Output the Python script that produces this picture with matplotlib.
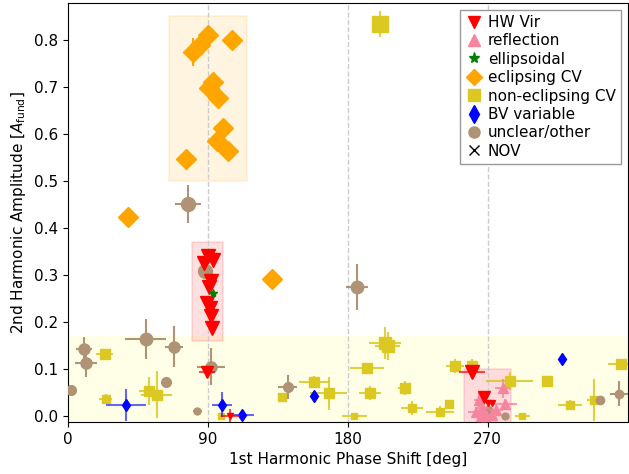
import matplotlib
matplotlib.use("Agg")
import matplotlib.pyplot as plt
from matplotlib.lines import Line2D

# ---------------- data ----------------
# eclipsing CV
ecv_x = [80.2, 84.7, 89.9, 105.3, 93.0, 91.0, 96.3, 99.4, 95.6, 102.7, 75.7, 38.5, 131.0]
ecv_y = [0.775, 0.790, 0.810, 0.800, 0.711, 0.698, 0.677, 0.613, 0.585, 0.564, 0.547, 0.423, 0.291]
ecv_yerr = [0.03, 0.0, 0.0, 0.0, 0.0, 0.0, 0.0, 0.0, 0.0, 0.0, 0.0, 0.012, 0.015]

# non-eclipsing CV
ncv_x = [200.9, 23.7, 24.2, 52.0, 57.0, 98.6, 137.8, 158.5, 167.7, 203.9, 205.6, 192.3, 194.5,
         216.5, 221.2, 239.4, 184.2, 245.2, 249.0, 259.7, 284.1, 292.3, 308.3, 322.9, 338.0, 355.4]
ncv_y = [0.834, 0.131, 0.036, 0.053, 0.045, 0.0, 0.041, 0.073, 0.048, 0.155, 0.149, 0.101, 0.048,
         0.060, 0.017, 0.009, 0.0, 0.025, 0.106, 0.107, 0.074, 0.0, 0.075, 0.023, 0.034, 0.110]
ncv_xerr = [0, 5.5, 4, 6, 10, 0, 0, 10, 12, 10, 8, 11, 7, 4, 7, 9, 8, 0, 6, 0, 15, 5, 0, 8, 4, 8]
ncv_yerr = [0.028, 0.01, 0.01, 0.03, 0.05, 0, 0, 0.012, 0.035, 0.035, 0.03, 0.0, 0.015,
            0.015, 0.015, 0.012, 0.0, 0.0, 0.015, 0.015, 0.02, 0.0, 0.0, 0.01, 0.045, 0.012]
ncv_size = [11, 7, 6, 7, 7, 5, 6, 7, 7, 8, 8, 7, 7, 7, 6, 6, 5, 6, 7, 7, 7, 5, 7, 6, 6, 7]

# unclear / other
unc_x = [77.0, 88.4, 185.7, 10.5, 11.6, 50.0, 68.2, 92.2, 63.3, 1.9, 83.2, 141.4, 270.2, 281.0, 342.0, 354.3]
unc_y = [0.451, 0.309, 0.274, 0.142, 0.112, 0.164, 0.147, 0.105, 0.071, 0.054, 0.011, 0.061,
         0.011, 0.0, 0.034, 0.047]
unc_xerr = [8.3, 0, 7, 5, 7.3, 13, 6, 9, 2.5, 0, 3, 6.2, 0, 0, 0, 6]
unc_yerr = [0.04, 0, 0.049, 0.025, 0.03, 0.042, 0.044, 0.039, 0.0, 0.0, 0.0, 0.026, 0, 0, 0, 0.027]
unc_size = [10, 10, 9, 8, 8, 9, 8, 8, 7, 7, 5, 7, 7, 5, 6, 6]

# BV variables
bv_x = [37.2, 99.3, 112.0, 158.1, 317.5]
bv_y = [0.023, 0.024, 0.002, 0.043, 0.121]
bv_xerr = [12.8, 6.4, 7.5, 0.0, 0.0]
bv_yerr = [0.035, 0.027, 0.01, 0.008, 0.008]

# HW Vir
hw_x = [90.0, 93.3, 87.5, 92.2, 90.7, 89.4, 91.1, 92.2, 92.8, 89.4, 104.4, 259.7, 267.4, 270.4, 272.5]
hw_y = [0.340, 0.332, 0.325, 0.286, 0.275, 0.241, 0.229, 0.213, 0.187, 0.094, 0.0, 0.094, 0.041, 0.027, 0.027]
hw_xerr = [0, 0, 0, 0, 0, 0, 0, 0, 0, 5, 6, 8.5, 0, 0, 0]
hw_yerr = [0, 0, 0, 0, 0, 0, 0, 0, 0, 0.008, 0.015, 0.0, 0, 0, 0]
hw_size = [10, 10, 10, 10, 10, 10, 10, 10, 10, 8, 5, 10, 9, 4, 4]

# reflection
ref_x = [279.5, 264.4, 281.0, 262.3, 266.5, 273.0, 275.5, 268.7, 265.5]
ref_y = [0.059, 0.034, 0.026, 0.009, 0.016, 0.002, 0.013, 0.0, 0.0]
ref_xerr = [4.8, 3, 7.5, 5, 4, 6, 4, 5, 4]
ref_yerr = [0.02, 0.015, 0.01, 0.01, 0.01, 0.01, 0.01, 0.01, 0.01]

# ellipsoidal
ell_x = [93.3]
ell_y = [0.262]

# classification regions (x0, x1, y0, y1)
reg_ecv = (65, 115, 0.50, 0.85)
reg_hw = (80, 100, 0.16, 0.37)
reg_ref = (255, 285, -0.02, 0.10)
band_y = 0.17

xticks = [0, 90, 180, 270]
yticks = [0.0, 0.1, 0.2, 0.3, 0.4, 0.5, 0.6, 0.7, 0.8]

# ---------------- style ----------------
C_ECV = "#ffa500"
C_NCV = "#dbc823"
C_UNC = "#b09274"
C_BV = "#0000ff"
C_HW = "#ff0000"
C_REF = "#f7849f"
C_ELL = "#008000"

fig = plt.figure(figsize=(6.29, 4.74), dpi=100)
ax = fig.add_axes([0.108, 0.110, 0.890, 0.884])

ax.set_xlim(0, 360)
ax.set_ylim(-0.0128, 0.879)

ax.axhspan(-0.05, band_y, color="yellow", alpha=0.09, lw=0, zorder=0)
for (x0, x1, y0, y1), c, a in [(reg_ecv, "orange", 0.12), (reg_hw, "red", 0.12), (reg_ref, "deeppink", 0.15)]:
    ax.add_patch(plt.Rectangle((x0, y0), x1 - x0, y1 - y0, facecolor=c, edgecolor=c,
                               alpha=a, lw=1.2, zorder=0.5))
for xv in [90, 180, 270]:
    ax.axvline(xv, color="#cccccc", ls="--", lw=1, zorder=0.6)


def draw(xs, ys, xe, ye, sizes, marker, color, ecolor, ealpha=1.0, z=3):
    for i in range(len(xs)):
        xerr = xe[i] if xe[i] else None
        yerr = ye[i] if ye[i] else None
        eb = ax.errorbar(xs[i], ys[i], xerr=xerr, yerr=yerr, fmt=marker, ms=sizes[i],
                         color=color, mec=color, ecolor=ecolor, elinewidth=1.5,
                         capsize=0, zorder=z)
        for lc in eb[2]:
            lc.set_alpha(ealpha)


draw(ncv_x, ncv_y, ncv_xerr, ncv_yerr, ncv_size, "s", C_NCV, C_NCV, 0.85, 3)
draw(unc_x, unc_y, unc_xerr, unc_yerr, unc_size, "o", C_UNC, C_UNC, 1.0, 3.2)
draw(bv_x, bv_y, bv_xerr, bv_yerr, [6] * len(bv_x), "d", C_BV, C_BV, 0.6, 3.4)
draw(ref_x, ref_y, ref_xerr, ref_yerr, [7] * len(ref_x), "^", C_REF, C_REF, 0.8, 3.5)
draw(hw_x, hw_y, hw_xerr, hw_yerr, hw_size, "v", C_HW, C_HW, 0.7, 3.6)
draw(ell_x, ell_y, [0], [0], [6], "*", C_ELL, C_ELL, 1.0, 3.7)
draw(ecv_x, ecv_y, [0] * len(ecv_x), ecv_yerr, [10] * len(ecv_x), "D", C_ECV, C_ECV, 1.0, 3.8)

handles = [
    Line2D([], [], ls="", marker="v", color=C_HW, ms=9, label="HW Vir"),
    Line2D([], [], ls="", marker="^", color=C_REF, ms=9, label="reflection"),
    Line2D([], [], ls="", marker="*", color=C_ELL, ms=8, label="ellipsoidal"),
    Line2D([], [], ls="", marker="D", color=C_ECV, ms=8, label="eclipsing CV"),
    Line2D([], [], ls="", marker="s", color=C_NCV, ms=8, label="non-eclipsing CV"),
    Line2D([], [], ls="", marker="d", color=C_BV, ms=9, label="BV variable"),
    Line2D([], [], ls="", marker="o", color=C_UNC, ms=8, label="unclear/other"),
    Line2D([], [], ls="", marker="x", color="black", ms=7, label="NOV"),
]
leg = ax.legend(handles=handles, loc="upper right", fontsize=11, fancybox=False,
                handletextpad=0.35, handlelength=1.1, borderpad=0.35, labelspacing=0.22,
                borderaxespad=0.45, edgecolor="#999999", framealpha=1.0)

ax.set_xticks(xticks)
ax.set_yticks(yticks)
ax.set_yticklabels([f"{v:.1f}" for v in yticks])
ax.tick_params(labelsize=11)
ax.set_xlabel("1st Harmonic Phase Shift [deg]", fontsize=11)
ax.set_ylabel(r"2nd Harmonic Amplitude [$A_{\rm fund}$]", fontsize=11)

fig.savefig("out.png", dpi=100)
